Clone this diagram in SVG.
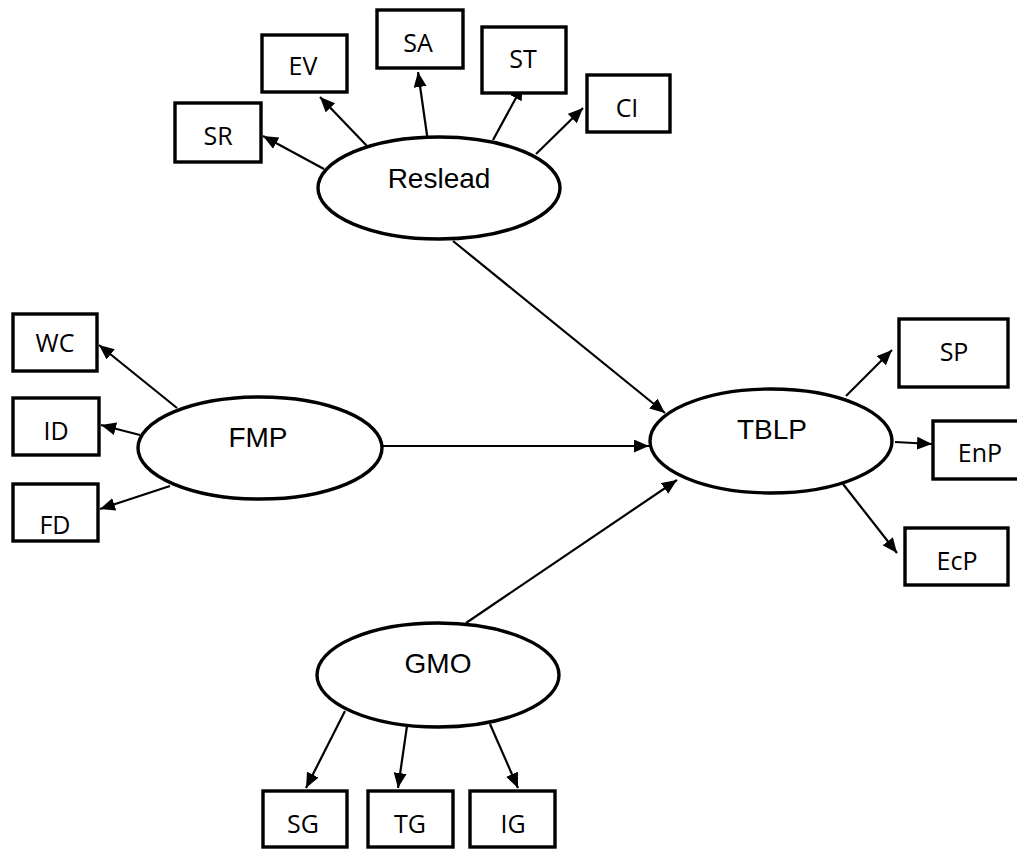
<svg xmlns="http://www.w3.org/2000/svg" width="1017" height="849" viewBox="0 0 1017 849">
<style>
.box{fill:#fff;stroke:#000;stroke-width:3.4}
.lat{fill:#fff;stroke:#000;stroke-width:3.4}
.bt{font-family:"Open Sans","Noto Sans",sans-serif;font-size:25px;fill:#000;text-anchor:middle}
.lt{font-family:"Liberation Sans",Arial,sans-serif;font-size:28px;fill:#000;text-anchor:middle}
.c line{stroke:#000;stroke-width:2.2;marker-end:url(#ah)}
</style>
<defs>
<marker id="ah" markerUnits="userSpaceOnUse" markerWidth="16" markerHeight="14" refX="15" refY="6.5" orient="auto">
<path d="M0,0 L15,6.5 L0,13 z" fill="#000"/>
</marker>
</defs>
<rect width="1017" height="849" fill="#fff"/>
<g class="c" id="connectors">
<line x1="324" y1="169" x2="263" y2="136"/>
<line x1="367" y1="146" x2="320" y2="97"/>
<line x1="428" y1="142" x2="418" y2="72"/>
<line x1="493" y1="140" x2="523" y2="85"/>
<line x1="536" y1="154" x2="583" y2="108"/>
<line x1="453" y1="241" x2="665" y2="413"/>
<line x1="177" y1="408" x2="99" y2="345"/>
<line x1="140" y1="435" x2="101" y2="425"/>
<line x1="170" y1="486" x2="100" y2="509"/>
<line x1="382" y1="446" x2="649" y2="446"/>
<line x1="466" y1="623" x2="677" y2="480"/>
<line x1="846" y1="396" x2="892" y2="350"/>
<line x1="895" y1="442" x2="932" y2="444"/>
<line x1="843" y1="484" x2="897" y2="553"/>
<line x1="345" y1="711" x2="306" y2="788"/>
<line x1="407" y1="726" x2="398" y2="788"/>
<line x1="490" y1="724" x2="518" y2="788"/>
</g>
<g id="Reslead"><ellipse class="lat" cx="439" cy="188" rx="121" ry="51"/><text class="lt" x="439" y="188">Reslead</text></g>
<g id="FMP"><ellipse class="lat" cx="260" cy="448" rx="122" ry="51"/><text class="lt" x="258" y="447">FMP</text></g>
<g id="TBLP"><ellipse class="lat" cx="771" cy="441" rx="121" ry="52"/><text class="lt" x="772" y="439">TBLP</text></g>
<g id="GMO"><ellipse class="lat" cx="438" cy="675" rx="121" ry="52"/><text class="lt" x="438" y="673">GMO</text></g>
<g id="SR"><rect class="box" x="175" y="103" width="86" height="59"/><text class="bt" x="218" y="145">SR</text></g>
<g id="EV"><rect class="box" x="262" y="35" width="85" height="57"/><text class="bt" x="303" y="75">EV</text></g>
<g id="SA"><rect class="box" x="377" y="10" width="86" height="58"/><text class="bt" x="418" y="52">SA</text></g>
<g id="ST"><rect class="box" x="482" y="27" width="84" height="66"/><text class="bt" x="523" y="68">ST</text></g>
<g id="CI"><rect class="box" x="587" y="75" width="83" height="57"/><text class="bt" x="627" y="117">CI</text></g>
<g id="WC"><rect class="box" x="13" y="314" width="84" height="57"/><text class="bt" x="55" y="352">WC</text></g>
<g id="ID"><rect class="box" x="13" y="398" width="86" height="57"/><text class="bt" x="56" y="440">ID</text></g>
<g id="FD"><rect class="box" x="13" y="484" width="85" height="57"/><text class="bt" x="55" y="534">FD</text></g>
<g id="SP"><rect class="box" x="899" y="319" width="109" height="68"/><text class="bt" x="954" y="361">SP</text></g>
<g id="EnP"><rect class="box" x="933" y="421" width="95" height="58"/><text class="bt" x="980" y="462">EnP</text></g>
<g id="EcP"><rect class="box" x="905" y="528" width="103" height="57"/><text class="bt" x="957" y="570">EcP</text></g>
<g id="SG"><rect class="box" x="263" y="791" width="84" height="56"/><text class="bt" x="303" y="833">SG</text></g>
<g id="TG"><rect class="box" x="368" y="791" width="85" height="56"/><text class="bt" x="410" y="833">TG</text></g>
<g id="IG"><rect class="box" x="470" y="791" width="85" height="56"/><text class="bt" x="513" y="833">IG</text></g>
</svg>
